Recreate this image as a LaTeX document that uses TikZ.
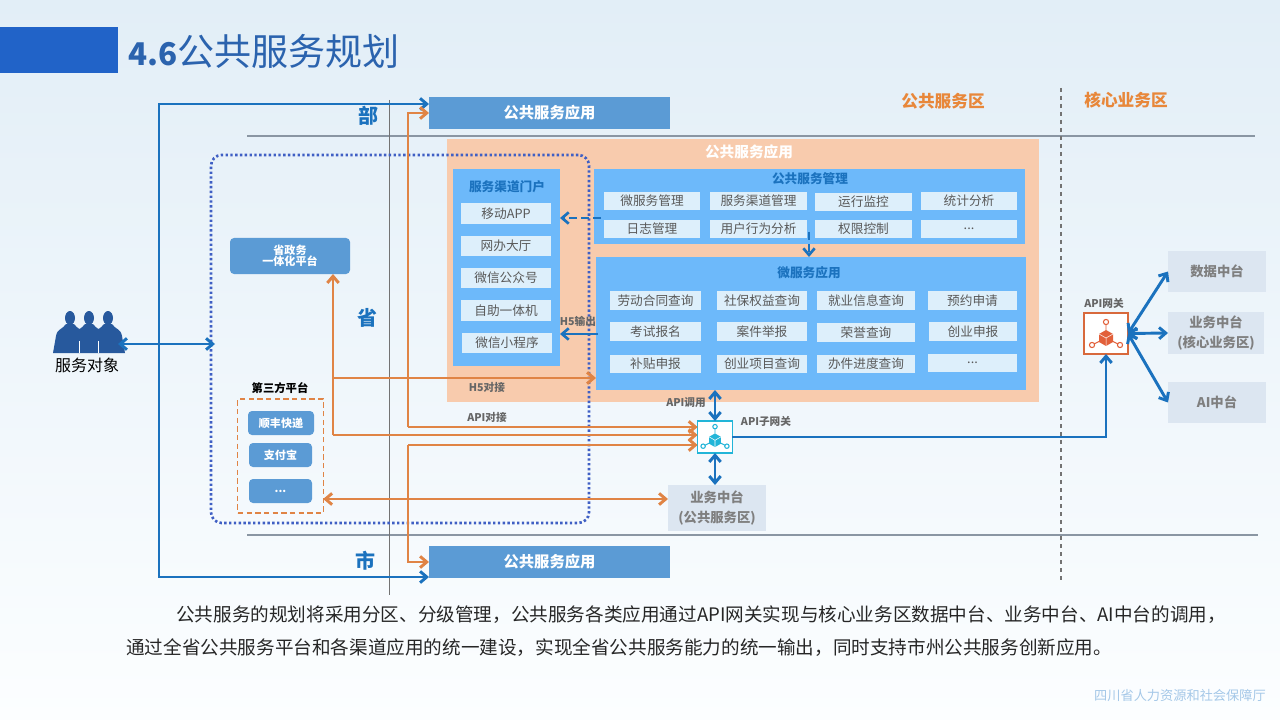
\documentclass[tikz,border=0pt]{standalone}
\usepackage{fontspec}
\setmainfont{Noto Sans CJK SC}
\usetikzlibrary{arrows.meta}

\definecolor{barblue}{HTML}{2163C8}
\definecolor{titleblue}{HTML}{2B63AE}
\definecolor{linkblue}{HTML}{1B72BE}
\definecolor{boxblue}{HTML}{5B9BD5}
\definecolor{skyblue}{HTML}{6DB9FA}
\definecolor{itemfill}{HTML}{DDEFFB}
\definecolor{peach}{HTML}{F8CBAD}
\definecolor{linkorange}{HTML}{E08445}
\definecolor{zoneorange}{HTML}{E8873A}
\definecolor{dotblue}{HTML}{3F5FC4}
\definecolor{hubfill}{HTML}{DCE6F1}
\definecolor{hubtext}{HTML}{7F7F7F}
\definecolor{ruleline}{HTML}{8A96A3}
\definecolor{gatecyan}{HTML}{22B5D8}
\definecolor{gatered}{HTML}{E2603A}
\definecolor{skytop}{HTML}{E2EEF7}
\definecolor{skymid}{HTML}{F0F7FD}
\definecolor{skylow}{HTML}{FCFEFF}
\newcommand{\moredots}{...}

\tikzset{
  blueline/.style={draw=linkblue, line width=2.2pt},
  orangeline/.style={draw=linkorange, line width=2.2pt},
  bluedash/.style={draw=linkblue, line width=2pt, dash pattern=on 6pt off 3pt},
  appbar/.style={fill=boxblue, text=white, font=\fontsize{11.5}{13}\selectfont\bfseries, minimum width=180.75pt, minimum height=24pt, inner sep=0pt, outer sep=0pt},
  itembox/.style={fill=itemfill, text=black!65, font=\fontsize{9.5}{11}\selectfont, inner sep=0pt, outer sep=0pt},
  pillbox/.style={fill=boxblue, rounded corners=3pt, text=white, font=\fontsize{8.3}{9}\selectfont\bfseries, inner sep=0pt, outer sep=0pt, align=center},
  hubbox/.style={fill=hubfill, text=hubtext, font=\fontsize{10}{15}\selectfont\bfseries, inner sep=0pt, outer sep=0pt, align=center},
  paneltitle/.style={text=linkblue, font=\fontsize{9.5}{11}\selectfont\bfseries, inner sep=0pt},
  linktag/.style={text=black!60, font=\fontsize{8}{9}\selectfont\bfseries, inner sep=0pt},
  leveltag/.style={text=linkblue, font=\fontsize{15}{17}\selectfont\bfseries, inner sep=0pt},
  zonetag/.style={text=zoneorange, font=\fontsize{12.5}{14}\selectfont\bfseries, inner sep=0pt},
  pics/cubeicon/.style={code={
    \draw[#1, line width=0.7pt] (0,-3) -- (0,-9) (-4,7) -- (-12,11) (4,7) -- (12,11);
    \draw[#1, line width=0.8pt] (0,-11) circle (2.6) (-14,12) circle (2.6) (14,12) circle (2.6);
    \fill[#1] (0,-3) -- (7,1) -- (7,9) -- (0,13) -- (-7,9) -- (-7,1) -- cycle;
    \draw[white, line width=0.4pt] (-7,1) -- (0,5) -- (7,1) (0,5) -- (0,13);
  }}
}

\begin{document}
\begin{tikzpicture}[x=0.75pt, y=-0.75pt, >={Straight Barb[length=5pt, width=8.5pt]}]
  \useasboundingbox (0,0) rectangle (1280,720);
  \shade[top color=skytop, middle color=skymid, bottom color=skylow] (0,0) rectangle (1280,720);

  % Title
  \fill[barblue] (0,27) rectangle (118,73);
  \node[anchor=west, inner sep=0pt, text=titleblue, font=\fontsize{27.8}{30}\selectfont] (pageTitle) at (128,51) {{\fontsize{23.5}{30}\selectfont\bfseries 4.6}公共服务规划};

  % Level rules
  \draw[ruleline, line width=0.8pt] (247,136) -- (1255,136);
  \draw[ruleline, line width=0.8pt] (247,535) -- (1258,535);
  \draw[black!55, line width=0.6pt] (389,100) -- (389,595);
  \draw[black!55, line width=0.8pt, dashed] (1061,88) -- (1061,582);

  \node[leveltag] (levelBu) at (368,116) {部};
  \node[leveltag] (levelSheng) at (367,318) {省};
  \node[leveltag] (levelShi) at (365,561) {市};
  \node[zonetag] (zonePublic) at (943,101) {公共服务区};
  \node[zonetag] (zoneCore) at (1126,100) {核心业务区};

  % People
  \fill[titleblue!90!black] \foreach \cx in {70,89,108} {
    (\cx,318) ellipse (5 and 7)
    (\cx-17,353) -- (\cx-14,336) .. controls (\cx-13,329) and (\cx-7,329) .. (\cx-4,324) -- (\cx+4,324) .. controls (\cx+7,329) and (\cx+13,329) .. (\cx+14,336) -- (\cx+17,353) -- cycle
  };
  \foreach \cx in {70,89} {
    \draw[white, line width=0.5pt] (\cx+9.5,341) -- (\cx+9.5,353);
  }
  \node[text=black, inner sep=0pt, font=\fontsize{12}{14}\selectfont] (peopleName) at (87,365) {服务对象};
  \coordinate (peopleEnd) at (118,344);

  % Ministry and city apps
  \node[appbar] (appTop) at (549.5,113) {公共服务应用};
  \node[appbar] (appBottom) at (549.5,562) {公共服务应用};

  % Province apps
  \fill[peach] (447,139) rectangle (1039,402);
  \node[text=white, inner sep=0pt, font=\fontsize{11}{13}\selectfont\bfseries] (appMid) at (749,152) {公共服务应用};

  \node[fill=skyblue, minimum width=80.25pt, minimum height=147.75pt, inner sep=0pt, outer sep=0pt] (portal) at (506.5,267.5) {};
  \node[paneltitle] (portalTitle) at (507,187) {服务渠道门户};
  \foreach \name/\x/\y/\txt in {portalA/506/213.5/移动APP, portalB/506/246/网办大厅, portalC/506/278/微信公众号, portalD/506/310.5/自助一体机, portalE/507/343/微信小程序} {
    \node[itembox, minimum width=67.5pt, minimum height=15.5pt] (\name) at (\x,\y) {\txt};
  }

  \node[fill=skyblue, minimum width=323.25pt, minimum height=56.25pt, inner sep=0pt, outer sep=0pt] (manage) at (809.5,206.5) {};
  \node[paneltitle] (manageTitle) at (810,179) {公共服务管理};
  \foreach \name/\x/\y/\txt in {
    manageA/652/201/微服务管理, manageB/758.5/201/服务渠道管理, manageC/863.5/202/运行监控, manageD/969/201/统计分析,
    manageE/652/229/日志管理, manageF/758.5/229/用户行为分析, manageG/863.5/229/权限控制, manageH/969/229/\moredots} {
    \node[itembox, minimum width=72.5pt, minimum height=14pt] (\name) at (\x,\y) {\txt};
  }

  \node[fill=skyblue, minimum width=322.5pt, minimum height=99.75pt, inner sep=0pt, outer sep=0pt] (micro) at (811,323.5) {};
  \node[paneltitle] (microTitle) at (809,273) {微服务应用};
  \foreach \name/\x/\y/\w/\txt in {
    microA/655.5/300.5/68/劳动合同查询, microB/762/300.5/68/社保权益查询, microC/866/300.5/73/就业信息查询, microD/972.5/300.5/67/预约申请,
    microE/655.5/331.5/68/考试报名, microF/762/331.5/68/案件举报, microG/866/332.5/73/荣誉查询, microH/973/331.5/66/创业申报,
    microI/655.5/364/68/补贴申报, microJ/762/364/68/创业项目查询, microK/866/364/73/办件进度查询, microL/972.5/363/67/\moredots} {
    \node[itembox, minimum width=\w pt, minimum height=14pt] (\name) at (\x,\y) {\txt};
  }

  % Province platform
  \node[draw=dotblue, line width=2pt, dash pattern=on 1.8pt off 1.8pt, rounded corners=8pt, minimum width=283.5pt, minimum height=276pt, inner sep=0pt, outer sep=0pt] (provFrame) at (400,339) {};
  \node[pillbox, minimum width=90pt, minimum height=27pt] (govPlat) at (290,256) {省政务\\[-1pt]一体化平台};

  % Third party
  \node[text=black, inner sep=0pt, font=\fontsize{8.5}{10}\selectfont\bfseries] (thirdTitle) at (280,388) {第三方平台};
  \node[draw=linkorange, line width=0.9pt, dash pattern=on 4pt off 2.5pt, minimum width=64pt, minimum height=85.5pt, inner sep=0pt, outer sep=0pt] (thirdFrame) at (280.5,456) {};
  \node[pillbox, minimum width=49.5pt, minimum height=18pt] (thirdA) at (281,423) {顺丰快递};
  \node[pillbox, minimum width=47.25pt, minimum height=18pt] (thirdB) at (280.5,455) {支付宝};
  \node[pillbox, minimum width=47.25pt, minimum height=18pt] (thirdC) at (280.5,491) {\moredots};

  % Gateways and hubs
  \node[draw=gatecyan, fill=white, line width=0.9pt, minimum width=26pt, minimum height=24pt, inner sep=0pt, outer sep=0pt] (subGate) at (715,437) {};
  \pic[scale=0.85] at (715,436) {cubeicon=gatecyan};
  \node[draw=gatered!70!brown, fill=white, line width=1pt, minimum width=33pt, minimum height=30.75pt, inner sep=0pt, outer sep=0pt] (apiGate) at (1106,333.5) {};
  \pic at (1106,333) {cubeicon=gatered};

  \node[hubbox, minimum width=73.5pt, minimum height=34.5pt] (hubPublic) at (717,508) {业务中台\\(公共服务区)};
  \node[hubbox, minimum width=73.5pt, minimum height=31pt] (hubData) at (1217,271.5) {数据中台};
  \node[hubbox, minimum width=72pt, minimum height=31.5pt] (hubCore) at (1216,333) {业务中台\\(核心业务区)};
  \node[hubbox, minimum width=73.5pt, minimum height=31pt] (hubAi) at (1217,402.5) {AI中台};

  \node[linktag] (tagOut) at (578,321) {H5输出};
  \node[linktag] (tagH5) at (487,387) {H5对接};
  \node[linktag] (tagApi) at (487,417) {API对接};
  \node[linktag] (tagCall) at (686,403) {API调用};
  \node[linktag] (tagSub) at (766,421) {API子网关};
  \node[linktag] (tagGate) at (1104,303) {API网关};

  % Blue connectors
  \coordinate (trunkTop) at (159,104);
  \coordinate (trunkBottom) at (159,577);
  \draw[blueline, ->] (trunkTop |- peopleEnd) |- (appTop.west |- trunkTop);
  \draw[blueline, ->] (trunkTop |- peopleEnd) |- (appBottom.west |- trunkBottom);
  \draw[blueline, <->] (peopleEnd) -- (215,344);
  \draw[bluedash, ->] (601,218) -- (portal.east |- 0,218);
  \draw[bluedash, ->] (809,232) -- (micro.north -| 809,0);
  \draw[draw=linkblue, line width=2pt, ->] (598,334) -- (portal.east |- 0,334);
  \draw[blueline, <->] (micro.south -| subGate) -- (subGate.north);
  \draw[blueline, <->] (subGate.south) -- (hubPublic.north -| subGate);
  \draw[blueline, ->] (subGate.east) -| (apiGate.south);
  \draw[blueline, <->] (apiGate.east) -- (hubData.west);
  \draw[blueline, <->] (apiGate.east) -- (hubCore.west);
  \draw[blueline, <->] (apiGate.east) -- (hubAi.west);

  % Orange connectors
  \coordinate (riserA) at (333,435);
  \coordinate (riserB) at (408,427);
  \coordinate (riserC) at (408,445);
  \draw[orangeline, ->] (riserA) -- (riserA |- govPlat.south);
  \draw[orangeline, ->] (riserA |- 0,378) -- (micro.west |- 0,378);
  \draw[orangeline, ->] (riserA) -- (subGate.west |- riserA);
  \draw[orangeline, ->] (riserB) |- (appTop.west);
  \draw[orangeline, ->] (riserB) -- (subGate.west |- riserB);
  \draw[orangeline, ->] (riserC) |- (appBottom.west);
  \draw[orangeline, ->] (riserC) -- (subGate.west |- riserC);
  \draw[orangeline, <->] (thirdFrame.east |- 0,499) -- (hubPublic.west |- 0,499);

  % Summary
  \node[anchor=west, inner sep=0pt, text=black!85, font=\fontsize{13.95}{15}\selectfont] (summaryA) at (176,615) {公共服务的规划将采用分区、分级管理，公共服务各类应用通过API网关实现与核心业务区数据中台、业务中台、AI中台的调用，};
  \node[anchor=west, inner sep=0pt, text=black!85, font=\fontsize{13.95}{15}\selectfont] (summaryB) at (126,648) {通过全省公共服务平台和各渠道应用的统一建设，实现全省公共服务能力的统一输出，同时支持市州公共服务创新应用。};
  \node[anchor=east, inner sep=0pt, text=boxblue!55!white, font=\fontsize{9.9}{11}\selectfont] (footer) at (1266,696) {四川省人力资源和社会保障厅};
\end{tikzpicture}
\end{document}
